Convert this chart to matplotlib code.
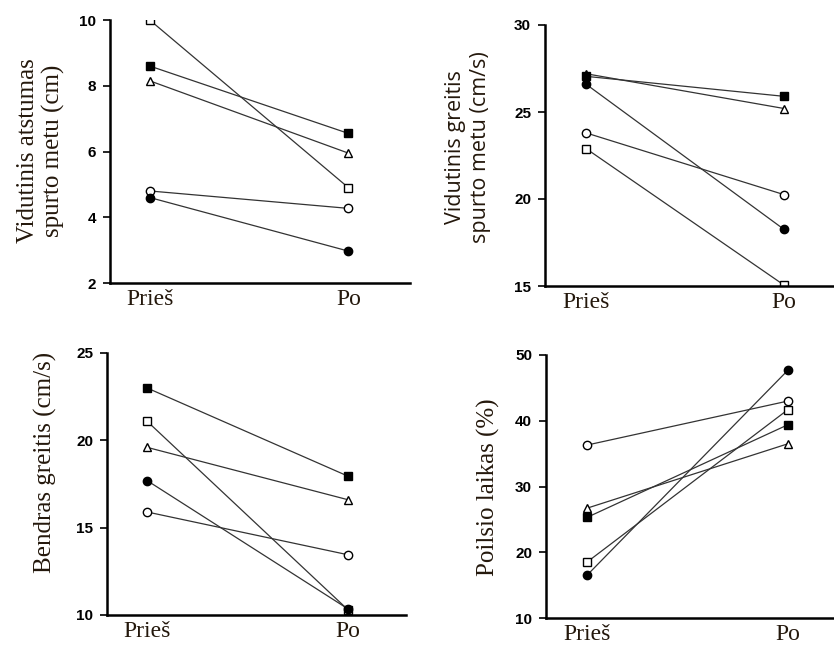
import numpy as np
import matplotlib.pyplot as plt

# x positions: before / after
x = [0, 1]
cat_labels = ["Prieš", "Po"]

# panel A: mean distance per burst (cm)
dist_open_sq = [10.0, 4.9]
dist_fill_sq = [8.6, 6.55]
dist_tri = [8.15, 5.95]
dist_open_c = [4.8, 4.27]
dist_fill_c = [4.6, 2.97]

# panel B: mean speed per burst (cm/s)
bspd_tri = [27.2, 25.2]
bspd_fill_sq = [27.05, 25.9]
bspd_fill_c = [26.6, 18.25]
bspd_open_c = [23.8, 20.25]
bspd_open_sq = [22.9, 15.05]

# panel C: overall speed (cm/s)
spd_fill_sq = [23.0, 17.95]
spd_open_sq = [21.1, 10.3]
spd_tri = [19.6, 16.6]
spd_fill_c = [17.7, 10.35]
spd_open_c = [15.9, 13.45]

# panel D: resting time (%)
rest_open_c = [36.3, 43.0]
rest_tri = [26.7, 36.5]
rest_fill_sq = [25.3, 39.4]
rest_open_sq = [18.5, 41.7]
rest_fill_c = [16.5, 47.7]

txt_color = "#24180c"
serif = ["Liberation Serif", "DejaVu Serif"]

styles = {
    "open_sq": dict(marker="s", mfc="white"),
    "fill_sq": dict(marker="s", mfc="black"),
    "tri": dict(marker="^", mfc="white"),
    "open_c": dict(marker="o", mfc="white"),
    "fill_c": dict(marker="o", mfc="black"),
}


def draw_panel(ax, series, yticks, xlim):
    for key, vals in series:
        ax.plot(x, vals, color="#333333", lw=0.9, ms=6, mec="black", mew=1.0,
                **styles[key])
    ax.set_ylim(yticks[0], yticks[-1])
    ax.set_yticks(yticks)
    ax.set_xlim(*xlim)
    ax.set_xticks(x)
    ax.set_xticklabels(cat_labels, family=serif, fontsize=17, color=txt_color)
    ax.tick_params(axis="x", length=0, pad=4)
    ax.tick_params(axis="y", direction="out", length=5, width=1.2, pad=5,
                   labelsize=11)
    for lab in ax.get_yticklabels():
        lab.set_fontweight("bold")
        lab.set_family("Liberation Sans")
    for s in ["top", "right"]:
        ax.spines[s].set_visible(False)
    for s in ["left", "bottom"]:
        ax.spines[s].set_linewidth(1.8)
    ax.spines["left"].set_bounds(yticks[0], yticks[-1])


fig = plt.figure(figsize=(8.34, 6.48), dpi=100)
W, H = 834, 648


def add_axes_px(x0, x1, ytop, ybot):
    return fig.add_axes([x0 / W, 1 - ybot / H, (x1 - x0) / W, (ybot - ytop) / H])


ax1 = add_axes_px(110, 410, 20, 283)
draw_panel(ax1, [("open_sq", dist_open_sq), ("fill_sq", dist_fill_sq),
                 ("tri", dist_tri), ("open_c", dist_open_c),
                 ("fill_c", dist_fill_c)],
           [2, 4, 6, 8, 10], (-0.2, 1.31))

ax2 = add_axes_px(545, 833, 25, 286)
draw_panel(ax2, [("tri", bspd_tri), ("fill_sq", bspd_fill_sq),
                 ("fill_c", bspd_fill_c), ("open_c", bspd_open_c),
                 ("open_sq", bspd_open_sq)],
           [15, 20, 25, 30], (-0.207, 1.247))

ax3 = add_axes_px(107, 406, 353, 615)
draw_panel(ax3, [("fill_sq", spd_fill_sq), ("open_sq", spd_open_sq),
                 ("tri", spd_tri), ("fill_c", spd_fill_c),
                 ("open_c", spd_open_c)],
           [10, 15, 20, 25], (-0.199, 1.289))

ax4 = add_axes_px(546, 834, 355, 618)
draw_panel(ax4, [("open_c", rest_open_c), ("tri", rest_tri),
                 ("fill_sq", rest_fill_sq), ("open_sq", rest_open_sq),
                 ("fill_c", rest_fill_c)],
           [10, 20, 30, 40, 50], (-0.204, 1.229))

# y axis titles
fig.text(41 / W, 1 - 151 / H, "Vidutinis atstumas\nspurto metu (cm)",
         rotation=90, ha="center", va="center", family=serif, fontsize=18,
         color=txt_color, linespacing=1.2)
fig.text(468 / W, 1 - 147 / H, "Vidutinis greitis\nspurto metu (cm/s)",
         rotation=90, ha="center", va="center", family=["Open Sans", "DejaVu Sans"],
         fontsize=15.5, color=txt_color, linespacing=1.25)
fig.text(45 / W, 1 - 462 / H, "Bendras greitis (cm/s)",
         rotation=90, ha="center", va="center", family=serif, fontsize=18,
         color=txt_color)
fig.text(488 / W, 1 - 487 / H, "Poilsio laikas (%)",
         rotation=90, ha="center", va="center", family=serif, fontsize=18,
         color=txt_color)

fig.savefig("out.png", dpi=100)
